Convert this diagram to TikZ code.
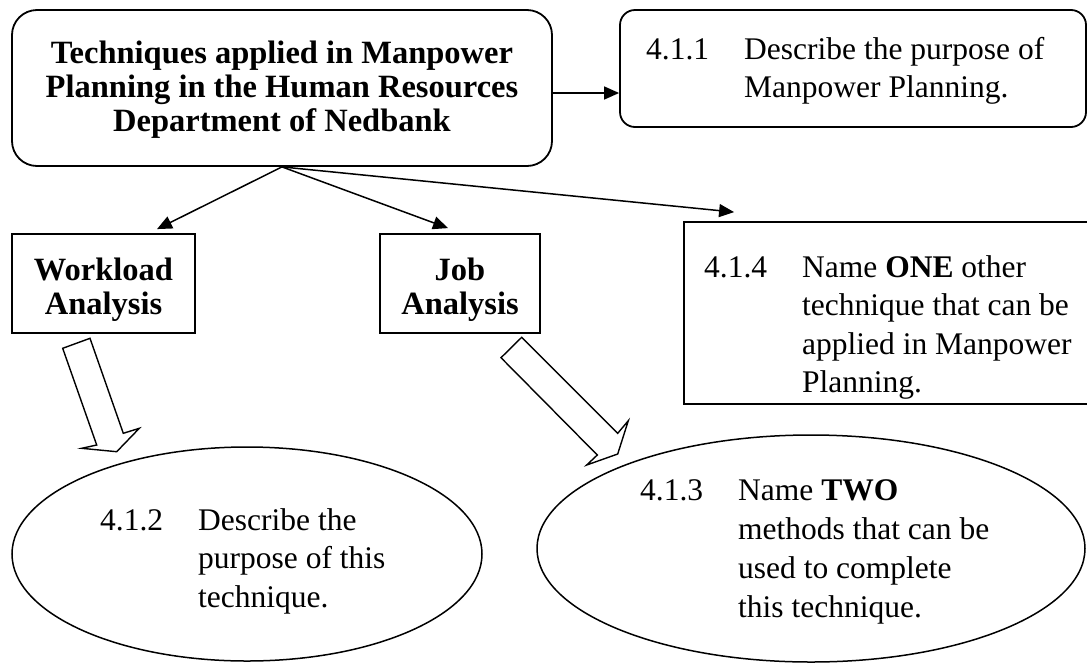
\documentclass[tikz,border=0pt]{standalone}
\usepackage{fontspec}
\setmainfont{Liberation Serif}
\usetikzlibrary{shapes.geometric,arrows.meta}
\begin{document}
\begin{tikzpicture}[x=1pt,y=-1pt,
  frame/.style={draw, line width=1.8pt, inner sep=0pt},
  roundframe/.style={frame, rounded corners=#1},
  oval/.style={draw, ellipse, line width=1.5pt, inner sep=0pt},
  txt/.style={inner sep=0pt, anchor=base west, font=\fontsize{31.5pt}{38.5pt}\selectfont},
  headtxt/.style={inner sep=0pt, anchor=base, font=\fontsize{32.5pt}{34pt}\selectfont\bfseries},
  link/.style={line width=1.5pt, -{Triangle[length=15pt,width=13pt]}},
  hollow/.style={draw, line width=1.4pt, fill=white, line join=miter}
]
\useasboundingbox (0,0) rectangle (1087,662);

% frames
\node[roundframe=25pt, minimum width=540pt, minimum height=156pt] (main) at (282,88) {};
\node[roundframe=15pt, minimum width=466pt, minimum height=117pt] (b411) at (853,68.5) {};
\node[frame, minimum width=183pt, minimum height=99pt] (wl) at (103.5,283.5) {};
\node[frame, minimum width=160pt, minimum height=99pt] (job) at (460,283.5) {};
\node[frame, minimum width=411pt, minimum height=182pt] (b414) at (889.5,313) {};
\node[oval, minimum width=470pt, minimum height=214pt] (e412) at (247,554) {};
\node[oval, minimum width=548pt, minimum height=227pt] (e413) at (811,548.5) {};

% texts
\node[headtxt] (maintxt) at (282,63) {\begin{tabular}[t]{@{}c@{}}Techniques applied in Manpower\\Planning in the Human Resources\\Department of Nedbank\end{tabular}};
\node[headtxt] (wltxt) at (103.5,280) {\begin{tabular}[t]{@{}c@{}}Workload\\Analysis\end{tabular}};
\node[headtxt] (jobtxt) at (460,280) {\begin{tabular}[t]{@{}c@{}}Job\\Analysis\end{tabular}};
\node[txt] (t411) at (646,59) {\begin{tabular}[t]{@{}l@{\hspace{35pt}}l@{}}4.1.1 & Describe the purpose of\\ & Manpower Planning.\end{tabular}};
\node[txt] (t414) at (704,277) {\begin{tabular}[t]{@{}l@{\hspace{35pt}}l@{}}4.1.4 & Name \textbf{ONE} other\\ & technique that can be\\ & applied in Manpower\\ & Planning.\end{tabular}};
\node[txt] (t412) at (100,530) {\begin{tabular}[t]{@{}l@{\hspace{35pt}}l@{}}4.1.2 & Describe the\\ & purpose of this\\ & technique.\end{tabular}};
\node[txt, font=\fontsize{31.5pt}{39pt}\selectfont] (t413) at (640,500) {\begin{tabular}[t]{@{}l@{\hspace{35pt}}l@{}}4.1.3 & Name \textbf{TWO}\\ & methods that can be\\ & used to complete\\ & this technique.\end{tabular}};

% connectors
\draw[link] ([yshift=-5pt]main.east) -- ([yshift=-5pt]main.east -| b411.west);
\draw[link] (main.south) -- ([shift={(53.5pt,4pt)}]wl.north);
\draw[link] (main.south) -- ([shift={(-12pt,5pt)}]job.north);
\draw[link] (main.south) -- ([shift={(51pt,9pt)}]b414.north west);

% hollow block arrows
\draw[hollow] (62.7,348.3) -- (90,338.3) -- (123.3,433.3) -- (139.3,428.3) -- (116.7,451.7) -- (81.7,448.3) -- (96.7,445) -- cycle;
\draw[hollow] (521.7,337.3) -- (617.7,433.3) -- (628.3,420.7) -- (617.7,454) -- (586.7,465) -- (597.3,455) -- (501,357.7) -- cycle;
\end{tikzpicture}
\end{document}
